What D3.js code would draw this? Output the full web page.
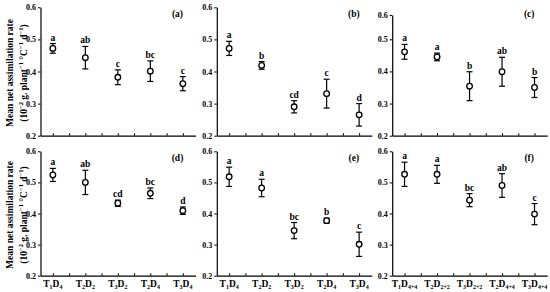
<!DOCTYPE html>
<html lang="en">
<head>
<meta charset="utf-8">
<script src="https://d3js.org/d3.v7.min.js"></script>
<style>
  body { margin: 0; background: #fff; }
  text { font-family: "Liberation Serif", "Times New Roman", serif; font-weight: bold; fill: #000; }
</style>
</head>
<body>
<script>
var w = 550, h = 292;

// categories / tick labels
var labels  = ["T1D4", "T2D2", "T3D2", "T2D4", "T3D4"];
var labelsF = ["T1D4+4", "T2D2+2", "T3D2+2", "T2D4+4", "T3D4+4"];
var yTicks  = [0.2, 0.3, 0.4, 0.5, 0.6];
var panelNames = ["(a)", "(b)", "(c)", "(d)", "(e)", "(f)"];

// means, error bars and letters
var meanA = [0.472, 0.443, 0.382, 0.401, 0.362];
var errA  = [0.015, 0.035, 0.023, 0.032, 0.022];
var letA  = ["a", "ab", "c", "bc", "c"];

var meanB = [0.472, 0.419, 0.290, 0.331, 0.265];
var errB  = [0.022, 0.012, 0.019, 0.045, 0.035];
var letB  = ["a", "b", "cd", "c", "d"];

var meanC = [0.461, 0.445, 0.354, 0.399, 0.350];
var errC  = [0.023, 0.012, 0.045, 0.045, 0.031];
var letC  = ["a", "a", "b", "ab", "b"];

var meanD = [0.524, 0.500, 0.433, 0.465, 0.409];
var errD  = [0.021, 0.039, 0.010, 0.017, 0.012];
var letD  = ["a", "ab", "cd", "bc", "d"];

var meanE = [0.518, 0.482, 0.345, 0.377, 0.301];
var errE  = [0.031, 0.028, 0.026, 0.008, 0.039];
var letE  = ["a", "a", "bc", "b", "c"];

var meanF = [0.526, 0.526, 0.443, 0.490, 0.398];
var errF  = [0.039, 0.029, 0.021, 0.038, 0.034];
var letF  = ["a", "a", "bc", "ab", "c"];

var panels = [
  {name: panelNames[0], mean: meanA, err: errA, lets: letA, cats: labels},
  {name: panelNames[1], mean: meanB, err: errB, lets: letB, cats: labels},
  {name: panelNames[2], mean: meanC, err: errC, lets: letC, cats: labels},
  {name: panelNames[3], mean: meanD, err: errD, lets: letD, cats: labels},
  {name: panelNames[4], mean: meanE, err: errE, lets: letE, cats: labels},
  {name: panelNames[5], mean: meanF, err: errF, lets: letF, cats: labelsF}
];

// layout
var colX = [40.5, 216.8, 392.2];
var axisLen = 155;
var rowRange = [[135.7, 7.3], [275.7, 151.3]];

var svg = d3.select("body").append("svg")
    .attr("width", w)
    .attr("height", h);

svg.append("rect")
    .attr("width", w)
    .attr("height", h)
    .attr("fill", "white");

// write "T1D4+4" style labels with subscripts
function subLabel(sel, str, big, small) {
  var parts = str.match(/[A-Z][^A-Z]*/g);
  var down = 0;
  parts.forEach(function(p) {
    sel.append("tspan").attr("font-size", big).attr("dy", -down).text(p[0]);
    sel.append("tspan").attr("font-size", small).attr("dy", 2).text(p.slice(1));
    down = 2;
  });
}

panels.forEach(function(p, k) {
  var col = k % 3, row = Math.floor(k / 3);
  var x0 = colX[col];

  var x = d3.scaleLinear()
      .domain([0.62, 5.39])
      .range([x0, x0 + axisLen]);

  var y = d3.scaleLinear();
  if (p.name == "(c)") {
    // this panel's top tick sits lower in the original
    y.domain([0.2, 0.5, 0.6]).range([135.7, 39.3, 15]);
  } else {
    y.domain([0.2, 0.6]).range(rowRange[row]);
  }

  var g = svg.append("g").attr("class", "panel");

  // axes
  var xAxis = d3.axisBottom(x)
      .tickValues(d3.range(1, 5.01, 0.5))
      .tickSizeInner(-2.5)
      .tickSizeOuter(0)
      .tickFormat("");

  var yAxis = d3.axisLeft(y)
      .tickValues(yTicks)
      .tickSizeInner(2.5)
      .tickSizeOuter(0)
      .tickPadding(2)
      .tickFormat(d3.format(".1f"));

  g.append("g")
      .attr("transform", `translate(0, ${y(0.2)})`)
      .call(xAxis);

  var gy = g.append("g")
      .attr("transform", `translate(${x0}, 0)`)
      .call(yAxis);

  gy.selectAll("text")
      .attr("font-size", 8)
      .attr("font-family", "Liberation Serif")
      .attr("font-weight", "bold");

  g.selectAll(".domain").attr("stroke-width", 1.2);
  g.selectAll(".tick line").attr("stroke-width", 1);

  // x tick labels, bottom row only
  if (row == 1) {
    p.cats.forEach(function(c, i) {
      var t = g.append("text")
          .attr("x", x(i + 1))
          .attr("y", y(0.2) + 11.5)
          .attr("text-anchor", "middle");
      subLabel(t, c, 9.5, 6);
    });
  }

  // error bars
  var cap = 3;
  var bars = g.append("g").attr("stroke", "black").attr("stroke-width", 1.2);
  p.mean.forEach(function(m, i) {
    var cx = x(i + 1);
    var top = y(m + p.err[i]), bot = y(m - p.err[i]);
    bars.append("line").attr("x1", cx).attr("x2", cx).attr("y1", top).attr("y2", bot);
    bars.append("line").attr("x1", cx - cap).attr("x2", cx + cap).attr("y1", top).attr("y2", top);
    bars.append("line").attr("x1", cx - cap).attr("x2", cx + cap).attr("y1", bot).attr("y2", bot);
  });

  // points
  g.selectAll("circle")
    .data(p.mean)
    .enter().append("circle")
      .attr("cx", (d, i) => x(i + 1))
      .attr("cy", d => y(d))
      .attr("r", 2.8)
      .attr("fill", "white")
      .attr("stroke", "black")
      .attr("stroke-width", 1.3);

  // significance letters
  g.selectAll("text.sig")
    .data(p.lets)
    .enter().append("text")
      .attr("class", "sig")
      .attr("x", (d, i) => x(i + 1))
      .attr("y", (d, i) => y(p.mean[i] + p.err[i]) - 3)
      .attr("text-anchor", "middle")
      .attr("font-size", 9.5)
      .text(d => d);

  // panel name
  g.append("text")
      .attr("x", x0 + 137)
      .attr("y", rowRange[row][1] + 9.5)
      .attr("text-anchor", "middle")
      .attr("font-size", 9.5)
      .text(p.name);

  // y label on left panels
  if (col == 0) {
    var cy = (rowRange[row][0] + rowRange[row][1]) / 2 + 1.5;
    g.append("text")
        .attr("transform", `translate(12.5, ${cy}) rotate(-90)`)
        .attr("text-anchor", "middle")
        .attr("font-size", 9.5)
        .text("Mean net assimilation rate");

    var t2 = g.append("text")
        .attr("transform", `translate(26.5, ${cy}) rotate(-90)`)
        .attr("text-anchor", "middle")
        .attr("font-size", 9.5);
    var pieces = [["(10", 0], ["\u22122", 1], [" g. plant", 0], ["\u22121", 1], [" \u00B0C", 0], ["\u22121", 1], [" d", 0], ["\u22121", 1], [")", 0]];
    var up = 0;
    pieces.forEach(function(s) {
      if (s[1] == 1) {
        t2.append("tspan").attr("font-size", 6.5).attr("dy", -3.5).text(s[0]);
        up = 3.5;
      } else {
        t2.append("tspan").attr("font-size", 9.5).attr("dy", up).text(s[0]);
        up = 0;
      }
    });
  }
});
</script>
</body>
</html>
